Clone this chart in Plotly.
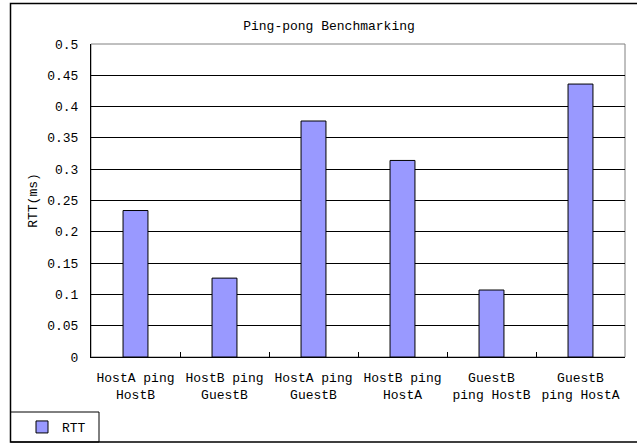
import plotly.graph_objects as go

categories = ["HostA ping<br>HostB", "HostB ping<br>GuestB", "HostA ping<br>GuestB",
              "HostB ping<br>HostA", "GuestB<br>ping HostB", "GuestB<br>ping HostA"]
rtt = [0.234, 0.126, 0.377, 0.314, 0.107, 0.436]
y_ticks = [0, 0.05, 0.1, 0.15, 0.2, 0.25, 0.3, 0.35, 0.4, 0.45, 0.5]
y_tick_labels = ["0", "0.05", "0.1", "0.15", "0.2", "0.25", "0.3", "0.35", "0.4", "0.45", "0.5"]

W, H = 637, 443
L, R, T, B = 91, 625, 44, 357  # plot area in pixels
FONT = "SimSun, Liberation Mono, monospace"

def px(x):
    return (x - L) / (R - L)

def py(y):
    return (B - y) / (B - T)

fig = go.Figure()
fig.add_trace(go.Bar(
    x=categories, y=rtt, name="RTT",
    marker=dict(color="#9999FF", line=dict(color="black", width=1)),
))

fig.update_layout(
    width=W, height=H,
    margin=dict(l=L, r=W - R, t=T, b=H - B, autoexpand=False),
    paper_bgcolor="white", plot_bgcolor="white",
    font=dict(family=FONT, size=13, color="black"),
    bargap=0.72,
    title=dict(text="Ping-pong Benchmarking", xref="paper", x=px(329), xanchor="center",
               yref="container", y=1 - 25 / H, yanchor="middle",
               font=dict(family=FONT, size=13, color="black")),
    showlegend=True,
    legend=dict(x=px(22), xanchor="left", y=py(427), yanchor="middle",
                bgcolor="rgba(0,0,0,0)", borderwidth=0,
                font=dict(family=FONT, size=13, color="black")),
    xaxis=dict(showline=True, linecolor="black", linewidth=1,
               ticks="inside", ticklen=5, tickcolor="black", tickson="boundaries",
               showgrid=False, ticklabelstandoff=8, fixedrange=True),
    yaxis=dict(range=[0, 0.5], tickvals=y_ticks, ticktext=y_tick_labels,
               showline=True, linecolor="black", linewidth=1,
               ticks="inside", ticklen=5, tickcolor="black",
               showgrid=True, gridcolor="black", gridwidth=1,
               zeroline=False, ticklabelstandoff=9,
               title=dict(text="RTT(ms)", standoff=6, font=dict(family=FONT, size=13)),
               fixedrange=True),
    shapes=[
        dict(type="rect", xref="paper", yref="paper", x0=0, y0=0, x1=1, y1=1,
             line=dict(color="#808080", width=1), layer="below"),
        dict(type="rect", xref="paper", yref="paper", x0=px(10.5), y0=py(442), x1=px(645), y1=py(3.5),
             line=dict(color="black", width=1.5), layer="above"),
        dict(type="rect", xref="paper", yref="paper", x0=px(10.5), y0=py(442), x1=px(99), y1=py(412),
             line=dict(color="black", width=1), layer="above"),
    ],
)

fig.write_html("out.html", config={"displayModeBar": False},
               post_script="document.body.style.margin='0';document.body.style.overflow='hidden';")
